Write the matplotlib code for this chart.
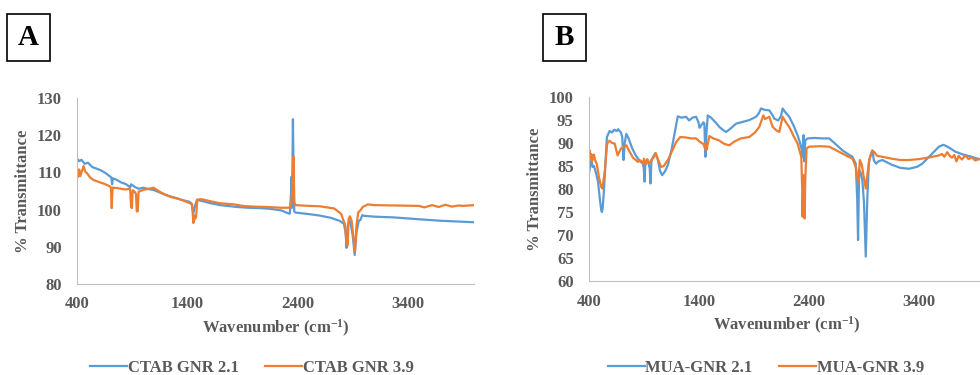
import matplotlib
matplotlib.use("Agg")
import matplotlib.pyplot as plt
from matplotlib.patches import Rectangle

plt.rcParams['font.family'] = ['Liberation Serif', 'DejaVu Serif']
plt.rcParams['font.weight'] = 'bold'
plt.rcParams['mathtext.fontset'] = 'custom'
plt.rcParams['mathtext.rm'] = 'Liberation Serif:bold'
plt.rcParams['mathtext.bf'] = 'Liberation Serif:bold'
plt.rcParams['mathtext.default'] = 'rm'

# --- panel A: CTAB GNR ---
ctab21_x = [400, 420, 440, 470, 500, 540, 580, 620, 660, 700, 712, 718, 726, 760, 800, 840, 870, 882, 890, 930,
            960, 1000, 1050, 1093, 1150, 1200, 1250, 1300, 1350, 1420, 1440, 1455, 1470, 1488, 1550, 1600, 1700,
            1760, 1850, 1950, 2063, 2150, 2250, 2306, 2330, 2340, 2345, 2350, 2358, 2364, 2370, 2382, 2500, 2600,
            2700, 2780, 2820, 2835, 2845, 2855, 2868, 2880, 2900, 2918, 2935, 2955, 2970, 2987, 3010, 3100, 3275,
            3500, 3700, 3850, 4000]
ctab21_y = [113.8, 113.0, 113.4, 112.3, 112.6, 111.4, 111.0, 110.5, 109.8, 108.9, 108.6, 106.8, 108.4, 108.0,
            107.3, 106.9, 106.3, 105.9, 106.8, 106.0, 105.6, 105.9, 105.5, 105.3, 104.6, 104.0, 103.5, 103.1,
            102.6, 102.1, 101.5, 99.0, 101.0, 102.6, 102.2, 101.8, 101.2, 101.0, 100.7, 100.5, 100.4, 100.2, 99.8,
            99.1, 98.9, 104.0, 108.8, 100.5, 124.3, 110.0, 99.5, 99.2, 98.8, 98.4, 97.8, 97.0, 96.2, 94.0, 89.7,
            95.5, 97.0, 96.5, 93.0, 87.8, 94.0, 97.0, 97.2, 98.5, 98.3, 98.1, 97.9, 97.4, 97.0, 96.8, 96.6]

ctab39_x = [400, 410, 420, 430, 445, 460, 475, 490, 520, 547, 600, 650, 700, 708, 715, 722, 760, 800, 840, 870,
            882, 890, 897, 905, 920, 935, 942, 951, 958, 1000, 1050, 1094, 1150, 1200, 1250, 1306, 1350, 1400,
            1442, 1450, 1455, 1462, 1470, 1480, 1491, 1530, 1600, 1700, 1824, 1900, 2000, 2127, 2250, 2309, 2335,
            2345, 2352, 2358, 2364, 2370, 2382, 2500, 2600, 2733, 2794, 2830, 2845, 2855, 2863, 2875, 2890, 2905,
            2921, 2935, 2950, 2970, 2991, 3036, 3100, 3300, 3500, 3550, 3620, 3680, 3740, 3800, 3860, 3900, 4000]
ctab39_y = [110.6, 108.8, 110.8, 109.0, 110.3, 111.7, 110.2, 109.8, 108.6, 108.0, 107.4, 106.9, 106.2, 105.8,
            100.4, 105.9, 105.8, 105.6, 105.4, 105.6, 105.4, 101.0, 100.4, 105.2, 104.9, 104.2, 99.5, 99.6, 104.8,
            105.3, 105.6, 105.9, 104.8, 104.0, 103.4, 103.0, 102.6, 102.0, 101.5, 99.0, 96.4, 98.5, 97.5, 98.0,
            102.7, 102.8, 102.3, 101.7, 101.4, 101.0, 100.8, 100.7, 100.5, 100.5, 100.6, 102.0, 106.0, 110.0,
            114.2, 102.0, 101.2, 101.0, 100.9, 100.3, 98.9, 96.0, 91.0, 90.4, 97.5, 98.2, 97.0, 93.0, 88.7, 96.0,
            99.2, 99.8, 100.7, 101.4, 101.2, 101.1, 101.0, 100.6, 101.2, 100.7, 101.3, 100.8, 101.1, 101.0, 101.2]

# --- panel B: MUA-GNR ---
mua21_x = [400, 410, 421, 432, 445, 460, 482, 500, 512, 518, 525, 538, 550, 563, 587, 610, 630, 650, 665, 678,
           690, 702, 714, 725, 739, 760, 790, 820, 845, 875, 890, 898, 905, 912, 925, 940, 952, 959, 968, 990,
           1005, 1025, 1045, 1065, 1090, 1117, 1150, 1177, 1207, 1240, 1283, 1310, 1340, 1374, 1395, 1405, 1419,
           1440, 1449, 1458, 1470, 1480, 1510, 1550, 1585, 1620, 1646, 1680, 1737, 1800, 1860, 1918, 1945, 1963,
           2000, 2039, 2070, 2084, 2120, 2145, 2160, 2190, 2220, 2260, 2296, 2315, 2326, 2335, 2341, 2347, 2352,
           2358, 2366, 2387, 2450, 2520, 2583, 2640, 2704, 2760, 2795, 2825, 2838, 2846, 2856, 2870, 2885, 2900,
           2916, 2930, 2945, 2962, 2976, 2990, 3010, 3030, 3067, 3150, 3230, 3309, 3380, 3430, 3500, 3581, 3620,
           3642, 3680, 3732, 3800, 3880, 3945]
mua21_y = [83.4, 85.0, 86.3, 84.8, 85.0, 83.8, 81.6, 77.5, 75.3, 75.0, 76.0, 80.5, 86.0, 91.3, 92.6, 92.3, 92.9,
           92.6, 93.0, 92.6, 92.3, 91.3, 86.3, 90.0, 92.0, 91.0, 89.0, 87.5, 86.6, 85.8, 85.5, 84.5, 81.6, 85.5,
           86.3, 85.6, 84.5, 81.2, 86.3, 87.3, 87.8, 86.5, 84.0, 83.0, 83.8, 85.2, 88.5, 92.0, 95.8, 95.5, 95.7,
           94.9, 95.5, 95.7, 94.5, 93.3, 93.8, 94.5, 94.2, 87.0, 93.0, 96.0, 95.5, 94.5, 93.5, 92.8, 92.4, 93.0,
           94.2, 94.6, 95.0, 95.7, 96.5, 97.5, 97.2, 97.1, 96.0, 95.3, 94.9, 95.8, 97.5, 96.5, 95.7, 93.8, 91.7,
           90.3, 89.2, 88.5, 87.0, 91.5, 91.7, 86.0, 90.5, 91.0, 91.1, 91.0, 91.0, 89.8, 88.4, 87.5, 87.0, 85.5,
           78.0, 68.9, 84.1, 83.5, 81.9, 77.0, 65.3, 78.0, 86.0, 87.5, 88.4, 86.2, 85.5, 86.0, 86.3, 85.3, 84.6,
           84.4, 84.8, 85.5, 87.2, 89.2, 89.6, 89.4, 88.9, 88.1, 87.5, 87.0, 86.5]

mua39_x = [400, 406, 415, 421, 428, 445, 455, 470, 490, 510, 521, 530, 545, 565, 587, 610, 633, 660, 680, 690,
           720, 740, 760, 800, 845, 870, 890, 900, 915, 930, 950, 970, 990, 1005, 1030, 1056, 1080, 1117, 1160,
           1192, 1230, 1280, 1330, 1374, 1410, 1440, 1455, 1462, 1468, 1495, 1530, 1580, 1630, 1676, 1720, 1780,
           1857, 1910, 1948, 1985, 2000, 2039, 2070, 2100, 2130, 2160, 2190, 2220, 2260, 2296, 2318, 2330, 2338,
           2341, 2346, 2350, 2356, 2360, 2366, 2378, 2400, 2500, 2583, 2640, 2704, 2760, 2795, 2825, 2849, 2862,
           2880, 2895, 2916, 2935, 2950, 2975, 2991, 3020, 3067, 3150, 3230, 3309, 3400, 3500, 3581, 3610, 3630,
           3657, 3680, 3700, 3720, 3740, 3760, 3790, 3820, 3850, 3880, 3910, 3945]
mua39_y = [85.5, 88.4, 86.5, 87.6, 86.0, 87.5, 86.3, 85.5, 82.6, 80.5, 80.1, 81.5, 84.1, 89.9, 90.5, 90.0, 89.9,
           87.3, 88.3, 88.8, 89.2, 89.5, 88.5, 86.8, 85.9, 86.2, 85.5, 86.6, 85.3, 86.5, 85.6, 86.3, 87.0, 87.8,
           86.2, 84.8, 85.0, 86.3, 88.5, 90.2, 91.3, 91.2, 91.0, 91.0, 90.2, 89.8, 88.8, 90.0, 88.5, 91.5, 91.0,
           90.6, 89.8, 89.5, 90.3, 91.0, 91.3, 92.3, 93.5, 96.0, 95.2, 95.7, 93.5, 92.8, 92.4, 95.7, 94.5, 93.5,
           91.5, 89.9, 88.0, 87.0, 80.0, 74.0, 79.0, 83.0, 74.0, 73.6, 82.0, 88.8, 89.2, 89.3, 89.2, 88.5, 87.7,
           87.0, 86.6, 84.8, 81.2, 86.3, 85.3, 83.0, 80.1, 84.0, 86.5, 88.3, 88.1, 87.2, 87.0, 86.6, 86.3, 86.3,
           86.5, 86.9, 87.3, 87.6, 87.0, 88.0, 87.2, 86.8, 87.4, 86.0, 87.2, 86.4, 87.3, 86.5, 86.9, 86.2, 86.5]

xticks = [400, 1400, 2400, 3400]
yticks_a = [80, 90, 100, 110, 120, 130]
yticks_b = [60, 65, 70, 75, 80, 85, 90, 95, 100]

blue = '#5B9BD5'
orange = '#ED7D31'
gray = '#595959'

fig = plt.figure(figsize=(9.8, 3.75), dpi=100)


def panel(rect, xs, ys, labels, yticks, ylim, letter, box_x, leg_x):
    ax = fig.add_axes(rect)
    ax.plot(xs[0], ys[0], color=blue, lw=1.6, label=labels[0])
    ax.plot(xs[1], ys[1], color=orange, lw=1.6, label=labels[1])
    ax.set_xlim(400, 4000)
    ax.set_ylim(*ylim)
    ax.set_xticks(xticks)
    ax.set_yticks(yticks)
    for s in ['top', 'right']:
        ax.spines[s].set_visible(False)
    for s in ['left', 'bottom']:
        ax.spines[s].set_color('#BFBFBF')
    ax.tick_params(length=0, labelsize=12, labelcolor=gray)
    ax.tick_params(axis='y', pad=11)
    ax.tick_params(axis='x', pad=9)
    for t in ax.get_xticklabels() + ax.get_yticklabels():
        t.set_fontweight('bold')
    ax.set_xlabel('Wavenumber (cm$^{-1}$)', fontsize=12, color=gray, labelpad=4, fontweight='bold')
    ax.set_ylabel('% Transmittance', fontsize=12, color=gray, labelpad=4, fontweight='bold')
    fig.legend(loc='center', bbox_to_anchor=(leg_x, 0.02), ncol=2, frameon=False,
               prop={'size': 12, 'weight': 'bold'},
               labelcolor=gray, handlelength=2.2, handletextpad=0.05, columnspacing=1.6,
               handles=ax.get_lines())
    # letter box
    fig.patches.append(Rectangle((box_x / 980, 1 - 61 / 375), 43 / 980, 47 / 375,
                                 transform=fig.transFigure, fill=False, ec='black', lw=1.2))
    fig.text((box_x + 21.5) / 980, 1 - 37.5 / 375, letter, fontsize=21, ha='center', va='center',
             color='black', fontweight='bold')
    return ax


panel([77 / 980, 91 / 375, 397 / 980, 186 / 375], [ctab21_x, ctab39_x], [ctab21_y, ctab39_y],
      ['CTAB GNR 2.1', 'CTAB GNR 3.9'], yticks_a, (80, 130), 'A', 7, 252 / 980)
panel([589 / 980, 94 / 375, 396 / 980, 184 / 375], [mua21_x, mua39_x], [mua21_y, mua39_y],
      ['MUA-GNR 2.1', 'MUA-GNR 3.9'], yticks_b, (60, 100), 'B', 543, 766 / 980)

fig.savefig('out.png', dpi=100)
